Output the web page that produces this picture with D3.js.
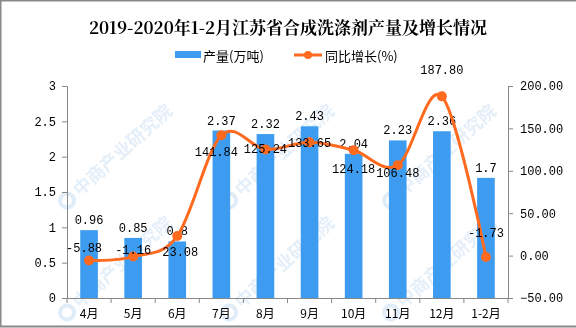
<!DOCTYPE html>
<html><head><meta charset="utf-8">
<script src="https://cdn.jsdelivr.net/npm/d3@7"></script>
<style>body{margin:0;background:#fff}svg{display:block}</style>
</head><body>
<svg id="c" width="576" height="328"></svg>
<script>
const categories = ["4月","5月","6月","7月","8月","9月","10月","11月","12月","1-2月"];
const output = [0.96,0.85,0.8,2.37,2.32,2.43,2.04,2.23,2.36,1.7];
const growth = [-5.88,-1.16,23.08,141.84,125.24,133.65,124.18,106.48,187.80,-1.73];
const growthLabels = ["-5.88","-1.16","23.08","141.84","125.24","133.65","124.18","106.48","187.80","-1.73"];
const leftTicks = [0,0.5,1,1.5,2,2.5,3];
const rightTicks = [-50,0,50,100,150,200];
const title = "2019-2020年1-2月江苏省合成洗涤剂产量及增长情况";
const legendNames = ["产量(万吨)","同比增长(%)"];

// label placement offsets (style)
const lblDy = [-12,-6,17,18,1,2,20,9,-25,-23];
const lblDx = [-5,0,3,-5,0,0,0,0,0,0];

const svg = d3.select("#c");
const W=576,H=328;
const L=67,R=508,T=86,B=298;
const blue="#3d9cef", orange="#ff6a1f";
const mono="'Liberation Mono','DejaVu Sans Mono',monospace";
const cjk="'Noto Sans CJK SC','Noto Sans',sans-serif";

// watermark (only fully inside ones)
const wm = svg.append("g").attr("opacity",0.55);
const wmStarts=[];
for(let r=0;r<4;r++){for(let c=-1;c<4;c++){wmStarts.push([80+c*162, 85+r*112]);}}
wmStarts.filter(([x,y])=>x-22>=0 && x+100<=W && y-92>=0 && y+6<=H).forEach(([x,y])=>{
  const g=wm.append("g").attr("transform",`translate(${x},${y}) rotate(-42)`);
  g.append("circle").attr("cx",-12).attr("cy",-6).attr("r",7).attr("fill","none").attr("stroke","#c7def2").attr("stroke-width",4);
  g.append("text").attr("x",0).attr("y",0).attr("font-family",cjk).attr("font-size",18).attr("font-weight","bold")
   .attr("fill","#cfe2f4").text("中商产业研究院");
});

// border
svg.append("rect").attr("x",0.5).attr("y",0.5).attr("width",W+2).attr("height",H-2).attr("fill","none").attr("stroke","#888").attr("stroke-width",2);

const x = d3.scaleBand().domain(categories).range([L,R]).paddingInner(0.6).paddingOuter(0.3);
const yL = d3.scaleLinear().domain([0,3]).range([B,T]);
const yR = d3.scaleLinear().domain([-50,200]).range([B,T]);

// bars
svg.append("g").selectAll("rect").data(output).join("rect")
  .attr("x",(d,i)=>x(categories[i])).attr("width",x.bandwidth())
  .attr("y",d=>yL(d)).attr("height",d=>B-yL(d)).attr("fill",blue);

// axes
const axL = svg.append("g").attr("transform",`translate(${L},0)`)
  .call(d3.axisLeft(yL).tickValues(leftTicks).tickSize(5).tickPadding(6).tickFormat(d=>String(d)));
const axR = svg.append("g").attr("transform",`translate(${R},0)`)
  .call(d3.axisRight(yR).tickValues(rightTicks).tickSize(5).tickPadding(7).tickFormat(d3.format(".2f")));
const axB = svg.append("g").attr("transform",`translate(0,${B})`)
  .call(d3.axisBottom(x).tickSize(0).tickPadding(11));
[axL,axR,axB].forEach(a=>{
  a.select(".domain").attr("stroke","#888");
  a.selectAll(".tick line").attr("stroke","#888");
  a.selectAll("text").attr("font-family",mono).attr("font-size",12).attr("fill","#000");
});
axB.selectAll("text").attr("font-family",cjk).attr("font-size",12);
// category boundary ticks
const bounds = categories.map(c=>x(c)-x.step()*x.paddingInner()/2).concat([R]);
bounds[0]=L;
svg.append("g").selectAll("line").data(bounds).join("line")
  .attr("x1",d=>d).attr("x2",d=>d).attr("y1",B).attr("y2",B+5).attr("stroke","#888");

// bar labels
svg.append("g").selectAll("text").data(output).join("text")
  .attr("x",(d,i)=>x(categories[i])+x.bandwidth()/2).attr("y",d=>yL(d)-9)
  .attr("text-anchor","middle").attr("dominant-baseline","central")
  .attr("font-family",mono).attr("font-size",12).text(d=>String(d));

// line
const cx = i=>x(categories[i])+x.bandwidth()/2;
const line = d3.line().x((d,i)=>cx(i)).y(d=>yR(d)).curve(d3.curveCardinal.tension(0));
svg.append("path").datum(growth).attr("d",line).attr("fill","none").attr("stroke",orange).attr("stroke-width",3);
svg.append("g").selectAll("circle").data(growth).join("circle")
  .attr("cx",(d,i)=>cx(i)).attr("cy",d=>yR(d)).attr("r",5).attr("fill",orange);

svg.append("g").selectAll("text").data(growth).join("text")
  .attr("x",(d,i)=>cx(i)+lblDx[i]).attr("y",(d,i)=>yR(d)+lblDy[i])
  .attr("text-anchor","middle").attr("dominant-baseline","central")
  .attr("font-family",mono).attr("font-size",12).text((d,i)=>growthLabels[i]);

// title
svg.append("text").attr("x",288).attr("y",26).attr("text-anchor","middle").attr("dominant-baseline","central")
  .attr("font-family","'Noto Serif CJK SC','Noto Sans CJK SC',serif").attr("font-weight","bold").attr("font-size",17).text(title);

// legend
const lg = svg.append("g");
lg.append("rect").attr("x",175).attr("y",51).attr("width",26).attr("height",7).attr("fill",blue);
lg.append("text").attr("x",203).attr("y",55).attr("dominant-baseline","central").attr("font-family",cjk).attr("font-size",13).text(legendNames[0]);
lg.append("line").attr("x1",294).attr("x2",322).attr("y1",55).attr("y2",55).attr("stroke",orange).attr("stroke-width",3);
lg.append("circle").attr("cx",308).attr("cy",55).attr("r",4).attr("fill",orange);
lg.append("text").attr("x",325).attr("y",55).attr("dominant-baseline","central").attr("font-family",cjk).attr("font-size",13).text(legendNames[1]);
</script>
</body></html>
